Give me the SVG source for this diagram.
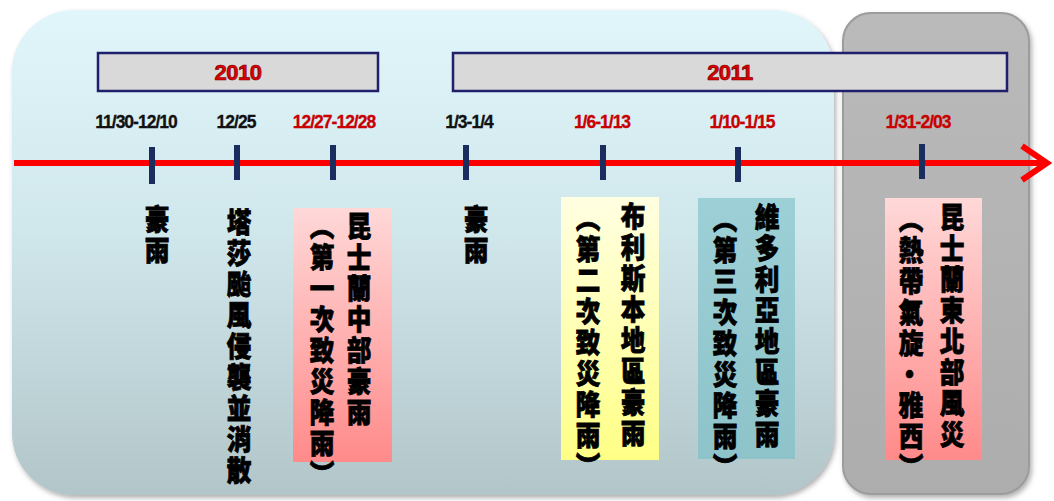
<svg xmlns="http://www.w3.org/2000/svg" width="1054" height="501" viewBox="0 0 1054 501">
<defs>
<linearGradient id="gBlue" x1="0" y1="0" x2="0" y2="1">
<stop offset="0" stop-color="#e0f6fb"/>
<stop offset="0.45" stop-color="#d0e7ec"/>
<stop offset="1" stop-color="#b2c6c9"/>
</linearGradient>
<linearGradient id="gGrey" x1="0" y1="0" x2="0" y2="1">
<stop offset="0" stop-color="#bababa"/>
<stop offset="1" stop-color="#adadad"/>
</linearGradient>
<linearGradient id="gPink" x1="0" y1="0" x2="0" y2="1">
<stop offset="0" stop-color="#ffd8d8"/>
<stop offset="1" stop-color="#ff8a8a"/>
</linearGradient>
<linearGradient id="gYellow" x1="0" y1="0" x2="0" y2="1">
<stop offset="0" stop-color="#ffffe2"/>
<stop offset="1" stop-color="#ffff86"/>
</linearGradient>
<linearGradient id="gTeal" x1="0" y1="0" x2="0" y2="1">
<stop offset="0" stop-color="#9dcfd6"/>
<stop offset="1" stop-color="#8ec3ca"/>
</linearGradient>
<filter id="shadow" x="-5%" y="-5%" width="110%" height="112%">
<feDropShadow dx="2" dy="3" stdDeviation="2.5" flood-color="#555" flood-opacity="0.45"/>
</filter>
<style>
.year{fill:#d9d9d9;stroke:#1f1f6b;stroke-width:2.5}
.ytxt{font-family:"Liberation Sans",Arial,sans-serif;font-weight:bold;font-size:22px;fill:#e00000;stroke:#700;stroke-width:0.7;text-anchor:middle;letter-spacing:-0.5px}
.date{font-family:"Liberation Sans",Arial,sans-serif;font-weight:bold;font-size:17.5px;text-anchor:middle;letter-spacing:-1px;stroke-width:0.3}
.blk{fill:#111;stroke:#111}
.red{fill:#c80000;stroke:#c80000}
.tick{stroke:#1b2d5e;stroke-width:6}
.vt{font-family:"Noto Sans CJK TC","Noto Sans CJK SC",sans-serif;font-weight:900;font-size:28px;fill:#000;stroke:#000;stroke-width:0.8;writing-mode:vertical-rl;letter-spacing:3px}
</style>
</defs>

<g id="panel-2010-2011">
<rect x="12" y="10" width="822" height="485" rx="62" ry="62" fill="url(#gBlue)" filter="url(#shadow)"/>
</g>
<g id="panel-feb">
<rect x="843" y="13" width="186" height="481" rx="28" ry="28" fill="url(#gGrey)" stroke="#9c9c9c" stroke-width="2" filter="url(#shadow)"/>
</g>

<g id="year-2010">
<rect class="year" x="98" y="53" width="280" height="38"/>
<text class="ytxt" x="238" y="80">2010</text>
</g>
<g id="year-2011">
<rect class="year" x="453" y="53" width="554" height="38"/>
<text class="ytxt" x="730" y="80">2011</text>
</g>

<g id="connectors">
<line x1="14" y1="163" x2="1046" y2="163" stroke="#ff0000" stroke-width="6"/>
<polyline points="1022,146 1047,163 1022,180" fill="none" stroke="#ff0000" stroke-width="6" stroke-linejoin="miter"/>
<line class="tick" x1="152" y1="147" x2="152" y2="184"/>
<line class="tick" x1="237" y1="145" x2="237" y2="180"/>
<line class="tick" x1="333" y1="145" x2="333" y2="180"/>
<line class="tick" x1="466" y1="145" x2="466" y2="180"/>
<line class="tick" x1="603" y1="145" x2="603" y2="180"/>
<line class="tick" x1="738" y1="147" x2="738" y2="182"/>
<line class="tick" x1="922" y1="144" x2="922" y2="179"/>
</g>

<g id="d1"><text class="date blk" x="136" y="128">11/30-12/10</text></g>
<g id="d2"><text class="date blk" x="236" y="128">12/25</text></g>
<g id="d3"><text class="date red" x="334" y="128">12/27-12/28</text></g>
<g id="d4"><text class="date blk" x="469" y="128">1/3-1/4</text></g>
<g id="d5"><text class="date red" x="602" y="128">1/6-1/13</text></g>
<g id="d6"><text class="date red" x="742" y="128">1/10-1/15</text></g>
<g id="d7"><text class="date red" x="918" y="128">1/31-2/03</text></g>

<g id="e1">
<g transform="translate(157,0) scale(0.88,1)"><text class="vt" x="0" y="205">豪雨</text></g>
</g>
<g id="e2">
<g transform="translate(239,0) scale(0.88,1)"><text class="vt" x="0" y="208">塔莎颱風侵襲並消散</text></g>
</g>
<g id="e3">
<rect x="293" y="208" width="99" height="254" fill="url(#gPink)"/>
<g transform="translate(359,0) scale(0.88,1)"><text class="vt" x="0" y="212">昆士蘭中部豪雨</text></g>
<g transform="translate(322,0) scale(0.88,1)"><text class="vt" x="0" y="212">（第一次致災降雨）</text></g>
</g>
<g id="e4">
<g transform="translate(476,0) scale(0.88,1)"><text class="vt" x="0" y="205">豪雨</text></g>
</g>
<g id="e5">
<rect x="561" y="197" width="98" height="263" fill="url(#gYellow)"/>
<g transform="translate(633,0) scale(0.88,1)"><text class="vt" x="0" y="202">布利斯本地區豪雨</text></g>
<g transform="translate(588,0) scale(0.88,1)"><text class="vt" x="0" y="204">（第二次致災降雨）</text></g>
</g>
<g id="e6">
<rect x="698" y="198" width="97" height="261" fill="url(#gTeal)"/>
<g transform="translate(767,0) scale(0.88,1)"><text class="vt" x="0" y="203">維多利亞地區豪雨</text></g>
<g transform="translate(725,0) scale(0.88,1)"><text class="vt" x="0" y="205">（第三次致災降雨）</text></g>
</g>
<g id="e7">
<rect x="885" y="198" width="97" height="262" fill="url(#gPink)"/>
<g transform="translate(952,0) scale(0.88,1)"><text class="vt" x="0" y="203">昆士蘭東北部風災</text></g>
<g transform="translate(911,0) scale(0.88,1)"><text class="vt" x="0" y="205">（熱帶氣旋‧雅西）</text></g>
</g>
</svg>
